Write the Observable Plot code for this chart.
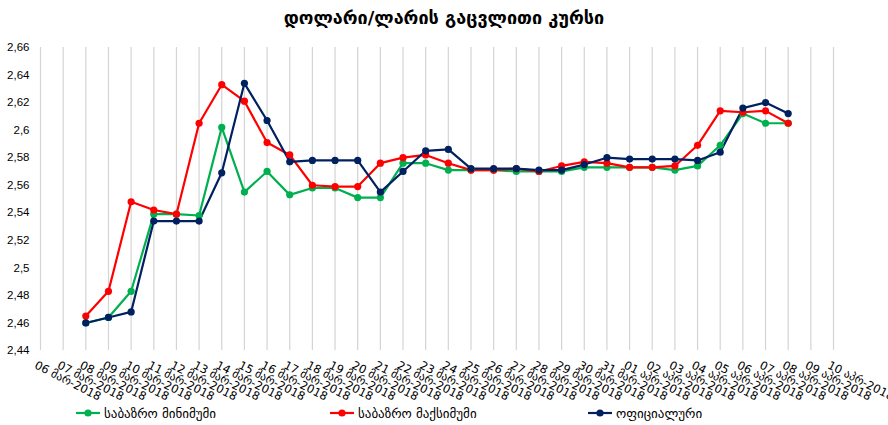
<!DOCTYPE html>
<html>
<head>
<meta charset="utf-8">
<script src="https://cdn.jsdelivr.net/npm/d3@7"></script>
<script src="https://cdn.jsdelivr.net/npm/@observablehq/plot@0.6"></script>
<style>
  html, body { margin: 0; padding: 0; background: #fff; }
  #wrap { position: relative; width: 888px; height: 425px; overflow: hidden; font-family: "Liberation Sans", "DejaVu Sans", sans-serif; }
  #title { height: 35px; line-height: 36px; text-align: center; padding-left: 0px; font-family: "DejaVu Sans", sans-serif; font-weight: bold; font-size: 18px; color: #000; }
  #chart { height: 365px; }
  #legend { position: absolute; top: 404px; left: 0; width: 888px; height: 18px; font-family: "DejaVu Sans", sans-serif; font-size: 13px; color: #000; }
  .item { position: absolute; top: 0; height: 18px; display: flex; align-items: center; }
  .sw { width: 24px; height: 14px; margin-right: 4px; }
</style>
</head>
<body>
<div id="wrap">
  <div id="title">დოლარი/ლარის გაცვლითი კურსი</div>
  <div id="chart"></div>
  <div id="legend"></div>
</div>
<script>
// categories (days)
const marchDays = ["06","07","08","09","10","11","12","13","14","15","16","17","18","19","20","21","22","23","24","25","26","27","28","29","30","31"];
const aprilDays = ["01","02","03","04","05","06","07","08","09","10"];
const dates = [...marchDays.map(d => d + " მარ-2018"), ...aprilDays.map(d => d + " აპრ-2018")];

// series values (null = no value)
const marketMin = [null, null, 2.460, 2.464, 2.483, 2.539, 2.539, 2.538, 2.602, 2.555, 2.570, 2.553, 2.558, 2.558, 2.551, 2.551, 2.576, 2.576, 2.571, 2.571, 2.571, 2.570, 2.570, 2.570, 2.573, 2.573, 2.573, 2.573, 2.571, 2.574, 2.589, 2.612, 2.605, 2.605, null, null];
const marketMax = [null, null, 2.465, 2.483, 2.548, 2.542, 2.539, 2.605, 2.633, 2.621, 2.591, 2.582, 2.560, 2.559, 2.559, 2.576, 2.580, 2.582, 2.576, 2.571, 2.571, 2.572, 2.570, 2.574, 2.577, 2.576, 2.573, 2.573, 2.574, 2.589, 2.614, 2.613, 2.614, 2.605, null, null];
const official  = [null, null, 2.460, 2.464, 2.468, 2.534, 2.534, 2.534, 2.569, 2.634, 2.607, 2.577, 2.578, 2.578, 2.578, 2.555, 2.570, 2.585, 2.586, 2.572, 2.572, 2.572, 2.571, 2.571, 2.575, 2.580, 2.579, 2.579, 2.579, 2.578, 2.584, 2.616, 2.620, 2.612, null, null];

// tick values
const yTicks = [2.44, 2.46, 2.48, 2.50, 2.52, 2.54, 2.56, 2.58, 2.60, 2.62, 2.64, 2.66];

const seriesNames = ["საბაზრო მინიმუმი", "საბაზრო მაქსიმუმი", "ოფიციალური"];
const seriesColors = ["#00B050", "#FF0000", "#002060"];
const seriesValues = [marketMin, marketMax, official];

const rows = [];
seriesValues.forEach((vals, s) => {
  vals.forEach((v, i) => {
    if (v != null) rows.push({series: seriesNames[s], idx: i, value: v});
  });
});

const idxTicks = dates.map((d, i) => i);
const fmt = d => String(+d.toFixed(2)).replace(".", ",");

const chart = Plot.plot({
  width: 888,
  height: 365,
  marginLeft: 40,
  marginRight: 55,
  marginTop: 12,
  marginBottom: 50,
  style: {fontFamily: "'Liberation Sans', 'DejaVu Sans', sans-serif", fontSize: "11px", color: "#000", background: "#fff", overflow: "visible"},
  x: {type: "linear", domain: [0, dates.length - 1], label: null},
  y: {domain: [2.44, 2.66], label: null},
  color: {domain: seriesNames, range: seriesColors},
  marks: [
    Plot.gridX(idxTicks, {stroke: "#d4d4d4", strokeOpacity: 1, strokeWidth: 1.2}),
    Plot.axisY({ticks: yTicks, tickFormat: fmt, tickSize: 0, tickPadding: 11, label: null, fontSize: 11.5}),
    Plot.axisX({ticks: idxTicks, tickFormat: i => dates[i], tickSize: 0, tickRotate: 27, tickPadding: 10, textAnchor: "start", lineAnchor: "top", dx: -3, label: null, fontSize: 11.5, fontFamily: "'DejaVu Sans', sans-serif"}),
    Plot.line(rows, {x: "idx", y: "value", z: "series", stroke: "series", strokeWidth: 2.2}),
    Plot.dot(rows, {x: "idx", y: "value", fill: "series", r: 3.6})
  ]
});
document.getElementById("chart").appendChild(chart);

// legend
const legendPos = [76, 330, 588];
const legend = document.getElementById("legend");
seriesNames.forEach((name, i) => {
  const item = document.createElement("div");
  item.className = "item";
  item.style.left = legendPos[i] + "px";
  item.innerHTML = `<svg class="sw" viewBox="0 0 24 14"><line x1="0" y1="7" x2="24" y2="7" stroke="${seriesColors[i]}" stroke-width="2.2"/><circle cx="12" cy="7" r="3.6" fill="${seriesColors[i]}"/></svg><span>${name}</span>`;
  legend.appendChild(item);
});
</script>
</body>
</html>
